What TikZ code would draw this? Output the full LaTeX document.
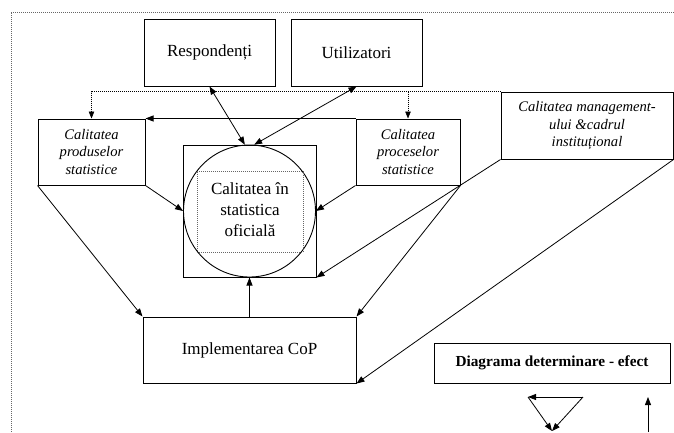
\documentclass[tikz,border=0pt]{standalone}
\usepackage{fontspec}
\setmainfont{Liberation Serif}
\usepackage{tikz}
\usetikzlibrary{arrows.meta, shapes.geometric}
\newcommand{\TextMare}{\fontsize{17}{21}\selectfont}
\newcommand{\TextMic}{\fontsize{14.6}{17.5}\selectfont\itshape}
\tikzset{
  %% -- Cutii ---------------------------------------------------------------
  %% all drawn in plain black, only the text style changes from box to box
  cutie/.style      = {draw=black, line width=1pt, rectangle, align=center,
                       inner sep=0pt, font=\TextMare},
  cutieIt/.style    = {cutie, font=\TextMic},
  cutieBold/.style  = {cutie, font=\fontsize{15.3}{18}\selectfont\bfseries},
  cerc/.style       = {draw=black, line width=0.9pt, circle, inner sep=0pt,
                       align=center, font=\TextMare},
  punctat/.style    = {draw=black!60, line width=0.7pt,
                       dash pattern=on 1pt off 1pt},
  %%
  %% -- Sageti --------------------------------------------------------------
  sageata/.style    = {-{Triangle[length=8pt, width=6pt]}, draw=black,
                       line width=0.8pt},
  sageataDubla/.style = {{Triangle[length=8pt, width=6pt]}-{Triangle[length=8pt, width=6pt]},
                       draw=black, line width=0.8pt},
  sageataPunct/.style = {-{Triangle[length=7pt, width=5.5pt]}, draw=black,
                       line width=0.6pt, dash pattern=on 1pt off 1pt},
}

\begin{document}
\begin{tikzpicture}[x=1pt, y=-1pt]
\useasboundingbox (0,0) rectangle (674,432);

%% chenarul punctat al paginii
\draw[punctat] (11,432) -- (11,12) -- (674,12);

\node[cutie, minimum width=131, minimum height=67] (resp) at (209.5, 52.5) {Respondenți};
\node[cutie, minimum width=131, minimum height=67] (util) at (356.5, 52.5) {Utilizatori};
\node[cutieIt, minimum width=107, minimum height=66] (prod) at (91.5, 152)
     {Calitatea\\produselor\\statistice};
\node[cutieIt, minimum width=104, minimum height=66] (proc) at (408, 152)
     {Calitatea\\proceselor\\statistice};
\node[cutieIt, minimum width=172, minimum height=67] (mgmt) at (587, 125.5)
     {Calitatea management-\\ului \&cadrul\\instituțional};

\node[cutie, minimum width=133, minimum height=132] (patrat) at (249.5, 211) {};
\node[cerc, minimum size=132] (circ) at (249.5, 211) {};
\node[punctat, draw, minimum width=106, minimum height=81, inner sep=0pt] (interior)
     at (250, 211.5) {};
\node[font=\TextMare, align=center] (titlu) at (250, 210) {Calitatea în\\statistica\\oficială};

\node[cutie, minimum width=213, minimum height=66] (impl) at (249.5, 350) {Implementarea CoP};
\node[cutieBold, minimum width=236, minimum height=40] (diag) at (552, 363)
     {Diagrama determinare - efect};

%% legaturi
\draw[sageataDubla] (resp.south) -- (circ.94);
\draw[sageataDubla] (circ.86) -- (util.south);
\draw[sageata] (proc.north west) -- (prod.north east);
\draw[sageata] (prod.south east) -- (circ.west);
\draw[sageata] (proc.south west) -- (circ.east);
\draw[sageata] (mgmt.south west) -- (patrat.south east);
\draw[sageata] (prod.south west) -- (impl.north west);
\draw[sageata] (proc.south east) -- (impl.north east);
\draw[sageata] (mgmt.south east) -- (impl.south east);
\draw[sageata] (impl.north) -- (patrat.south);

\coordinate (ram) at (proc.north |- mgmt.north west);
\draw[sageataPunct] (mgmt.north west) -| (prod.north);
\draw[sageataPunct] (ram) -- (proc.north);

%% triunghiul si sageata de sub diagrama
\coordinate (tA) at (528, 397);
\coordinate (tB) at (583, 397);
\coordinate (tC) at (552, 431);
\coordinate (sJos) at (648, 432);
\coordinate (sSus) at (648, 397);
\draw[sageata] (tB) -- (tA);
\draw[sageata] (tA) -- (tC);
\draw[sageata] (tB) -- (tC);
\draw[sageata] (sJos) -- (sSus);

\end{tikzpicture}
\end{document}
